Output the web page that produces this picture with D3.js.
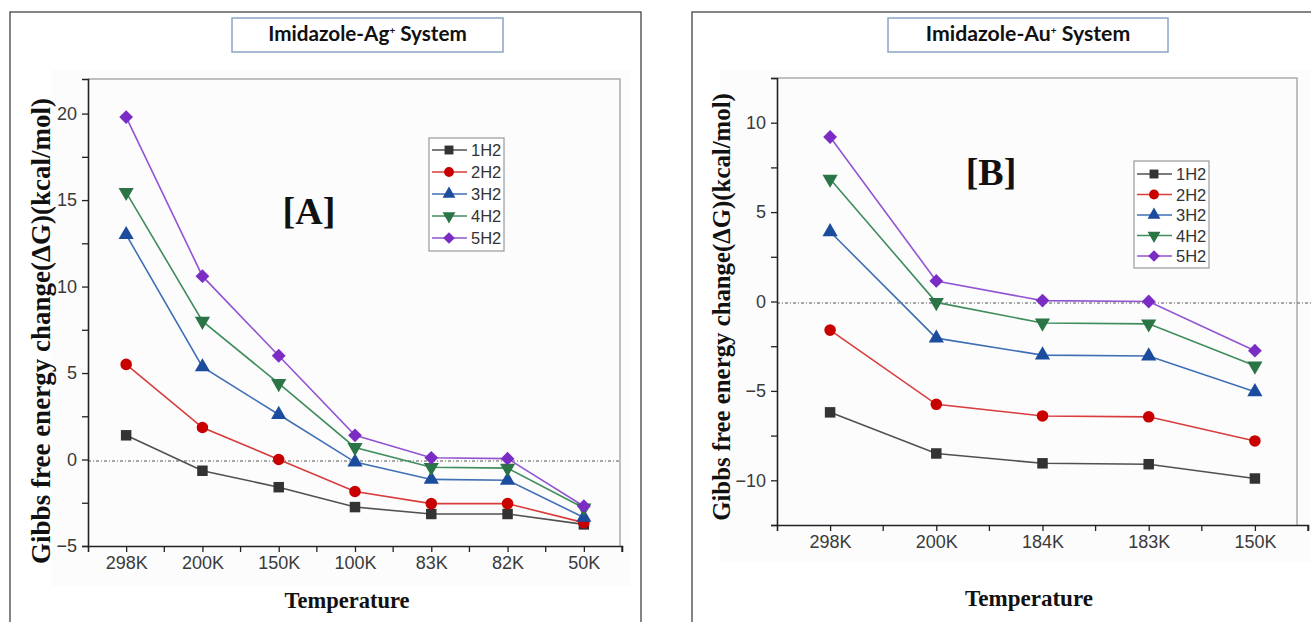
<!DOCTYPE html>
<html><head><meta charset="utf-8">
<script src="https://cdn.jsdelivr.net/npm/d3@7"></script>
<style>body{margin:0;background:#fff}svg{display:block}</style>
</head><body>
<script>
// ---------- DATA ----------
const seriesNames = ["1H2","2H2","3H2","4H2","5H2"];
const catsA = ["298K","200K","150K","100K","83K","82K","50K"];
const agH1 = [1.4,-0.65,-1.6,-2.75,-3.15,-3.15,-3.75];
const agH2 = [5.5,1.85,0.0,-1.85,-2.55,-2.55,-3.65];
const agH3 = [13.0,5.35,2.6,-0.15,-1.15,-1.2,-3.35];
const agH4 = [15.45,8.0,4.4,0.7,-0.45,-0.5,-2.8];
const agH5 = [19.8,10.6,6.0,1.4,0.1,0.05,-2.7];
const ticksA = [-5,0,5,10,15,20];

const catsB = ["298K","200K","184K","183K","150K"];
const auH1 = [-6.2,-8.5,-9.05,-9.1,-9.9];
const auH2 = [-1.6,-5.75,-6.4,-6.45,-7.8];
const auH3 = [3.9,-2.05,-3.0,-3.05,-5.05];
const auH4 = [6.85,-0.05,-1.2,-1.25,-3.6];
const auH5 = [9.2,1.15,0.05,0.0,-2.75];
const ticksB = [-10,-5,0,5,10];

// ---------- STYLE ----------
const lineCol = ["#505050","#d83c3c","#3f6fb4","#3f8c5c","#9254d2"];
const markCol = ["#333333","#c80000","#1c4c9e","#2a7445","#7a2cc4"];
const symbols = ["square","circle","tri","triDown","diamond"];
const sansNarrow = "'Liberation Sans Narrow', 'Arial Narrow', 'Liberation Sans', Arial, sans-serif";

const W=1311,H=622;
const svg=d3.select("body").append("svg").attr("width",W).attr("height",H);
svg.append("rect").attr("width",W).attr("height",H).attr("fill","#fff");

function markerPath(kind){
  if(kind==="square") return {d:d3.symbol(d3.symbolSquare,110)(),rot:0};
  if(kind==="circle") return {d:d3.symbol(d3.symbolCircle,105)(),rot:0};
  if(kind==="tri") return {d:d3.symbol(d3.symbolTriangle,100)(),rot:0};
  if(kind==="triDown") return {d:d3.symbol(d3.symbolTriangle,100)(),rot:180};
  return {d:d3.symbol(d3.symbolSquare,95)(),rot:45};
}

function fitText(sel,target){
  const n=sel.node(); const fs=parseFloat(sel.attr("font-size"));
  const len=n.getComputedTextLength();
  sel.attr("font-size",fs*target/len);
}

function panel(cfg){
  const g=svg.append("g");
  g.append("rect").attr("x",cfg.frame[0]).attr("y",cfg.frame[1])
   .attr("width",cfg.frame[2]).attr("height",cfg.frame[3])
   .attr("fill","none").attr("stroke","#333").attr("stroke-width",1.2);
  g.append("rect").attr("x",cfg.bg[0]).attr("y",cfg.bg[1]).attr("width",cfg.bg[2]).attr("height",cfg.bg[3])
   .attr("fill","#fcfcfc");
  const tb=cfg.titleBox;
  g.append("rect").attr("x",tb[0]).attr("y",tb[1]).attr("width",tb[2]).attr("height",tb[3])
   .attr("fill","#fff").attr("stroke","#8aa4c6").attr("stroke-width",1.5);
  const tt=g.append("text").attr("x",tb[0]+tb[2]/2).attr("y",tb[1]+tb[3]/2+6)
    .attr("text-anchor","middle").attr("font-family","Lato, 'Open Sans', sans-serif")
    .attr("font-weight",700).attr("font-size",17).attr("fill","#111");
  tt.append("tspan").text(cfg.titleMain);
  tt.append("tspan").text("+").attr("font-size",10).attr("dy",-7);
  tt.append("tspan").text(" System").attr("dy",7);
  fitText(tt,cfg.titleLen);

  const x=d3.scalePoint().domain(cfg.cats).range([cfg.x0,cfg.x1]).padding(0.5);
  const y=d3.scaleLinear().domain(cfg.ydom).range([cfg.yb,cfg.yt]);
  const ax=g.append("g");
  ax.append("path").attr("d",`M${cfg.x0},${cfg.yt}H${cfg.boxR}V${cfg.yb}`)
    .attr("fill","none").attr("stroke","#aaa").attr("stroke-width",1.5);
  ax.append("line").attr("x1",cfg.x0).attr("x2",cfg.zeroEnd)
    .attr("y1",y(0)+1.5).attr("y2",y(0)+1.5)
    .attr("stroke","#8a8a8a").attr("stroke-width",1.4).attr("stroke-dasharray","3,2,1,2");
  const minorY=d3.range(cfg.ydom[0],cfg.ydom[1]+0.01,2.5);
  const yA=ax.append("g").attr("transform",`translate(${cfg.x0},0)`)
    .call(d3.axisLeft(y).tickValues(minorY).tickSize(6).tickSizeOuter(6)
      .tickFormat(d=>cfg.yticks.includes(d)?d3.format("d")(d):"").tickPadding(5));
  const stepX=x.step();
  const xMinor=cfg.cats.map(c=>x(c)+stepX/2);
  const xA=ax.append("g").attr("transform",`translate(0,${cfg.yb})`)
    .call(d3.axisBottom(x).tickSize(6).tickSizeOuter(6).tickPadding(4));
  xA.selectAll(".minor").data(xMinor).enter().append("line").attr("class","minor")
    .attr("x1",d=>d).attr("x2",d=>d).attr("y1",0).attr("y2",6).attr("stroke","#222").attr("stroke-width",1.3);
  [yA,xA].forEach(a=>{
    a.attr("font-family",sansNarrow).attr("font-size",18);
    a.selectAll("path.domain").attr("stroke","#222").attr("stroke-width",1.6);
    a.selectAll(".tick line").attr("stroke","#222").attr("stroke-width",1.3);
    a.selectAll("text").attr("font-family",sansNarrow)
      .attr("font-size",18).attr("fill","#3a3a3a");
  });

  cfg.series.forEach((vals,i)=>{
    const line=d3.line().x((d,j)=>x(cfg.cats[j])).y(d=>y(d));
    g.append("path").attr("d",line(vals)).attr("fill","none")
      .attr("stroke",lineCol[i]).attr("stroke-width",1.6);
  });
  cfg.series.forEach((vals,i)=>{
    const m=markerPath(symbols[i]);
    g.selectAll(null).data(vals).enter().append("path").attr("d",m.d)
      .attr("transform",(d,j)=>`translate(${x(cfg.cats[j])},${y(d)}) rotate(${m.rot})`)
      .attr("fill",markCol[i]);
  });

  const L=cfg.legend;
  g.append("rect").attr("x",L.x).attr("y",L.y).attr("width",L.w).attr("height",L.h)
    .attr("fill","#fff").attr("stroke","#999").attr("stroke-width",1.2);
  seriesNames.forEach((s,i)=>{
    const yy=L.y+L.pad+i*L.dy;
    g.append("line").attr("x1",L.x+3).attr("x2",L.x+38).attr("y1",yy).attr("y2",yy)
      .attr("stroke",lineCol[i]).attr("stroke-width",1.6);
    const m=markerPath(symbols[i]);
    g.append("path").attr("d",m.d).attr("transform",`translate(${L.x+20},${yy}) rotate(${m.rot}) scale(0.85)`)
      .attr("fill",markCol[i]);
    g.append("text").attr("x",L.x+42).attr("y",yy+6).text(s)
      .attr("font-family",sansNarrow).attr("font-size",16.5).attr("fill","#333");
  });

  g.append("text").attr("x",cfg.tag[0]).attr("y",cfg.tag[1]).text(cfg.tagText)
    .attr("text-anchor","middle").attr("font-family","'Liberation Serif', 'Times New Roman', serif")
    .attr("font-weight",700).attr("font-size",38).attr("fill","#111");

  const yl=g.append("text").attr("transform",`translate(${cfg.yLab[0]},${cfg.yLab[1]}) rotate(-90)`)
    .attr("text-anchor","middle").attr("font-family","'Liberation Serif', 'Times New Roman', serif")
    .attr("font-weight",700).attr("font-size",20).attr("fill","#111")
    .attr("dy","0.35em").text("Gibbs free energy change(\u0394G)(kcal/mol)");
  fitText(yl,cfg.yLabLen);
  const xl=g.append("text").attr("x",cfg.xLab[0]).attr("y",cfg.xLab[1])
    .attr("text-anchor","middle").attr("font-family","'Liberation Serif', 'Times New Roman', serif")
    .attr("font-weight",700).attr("font-size",21).attr("fill","#111").text("Temperature");
  fitText(xl,cfg.xLabLen);
}

panel({
  frame:[10,12,631,620], bg:[52,70,578,516],
  titleBox:[232,18,271,34], titleMain:"Imidazole-Ag", titleLen:200,
  cats:catsA, x0:88, x1:622, boxR:620, zeroEnd:620,
  ydom:[-5,22], yticks:ticksA, yb:546, yt:79,
  series:[agH1,agH2,agH3,agH4,agH5],
  legend:{x:429,y:138,w:75,h:113,pad:12,dy:22},
  tag:[309,224], tagText:"[A]",
  yLab:[41,331], yLabLen:466, xLab:[347,608], xLabLen:125
});
panel({
  frame:[692,12,630,620], bg:[720,70,591,492],
  titleBox:[888,18,280,34], titleMain:"Imidazole-Au", titleLen:206,
  cats:catsB, x0:777, x1:1308, boxR:1297, zeroEnd:1311,
  ydom:[-12.5,12.5], yticks:ticksB, yb:525, yt:78,
  series:[auH1,auH2,auH3,auH4,auH5],
  legend:{x:1134,y:161,w:75,h:107,pad:13,dy:20.5},
  tag:[991,185], tagText:"[B]",
  yLab:[721,307], yLabLen:428, xLab:[1029,606], xLabLen:128
});
</script>
</body></html>
